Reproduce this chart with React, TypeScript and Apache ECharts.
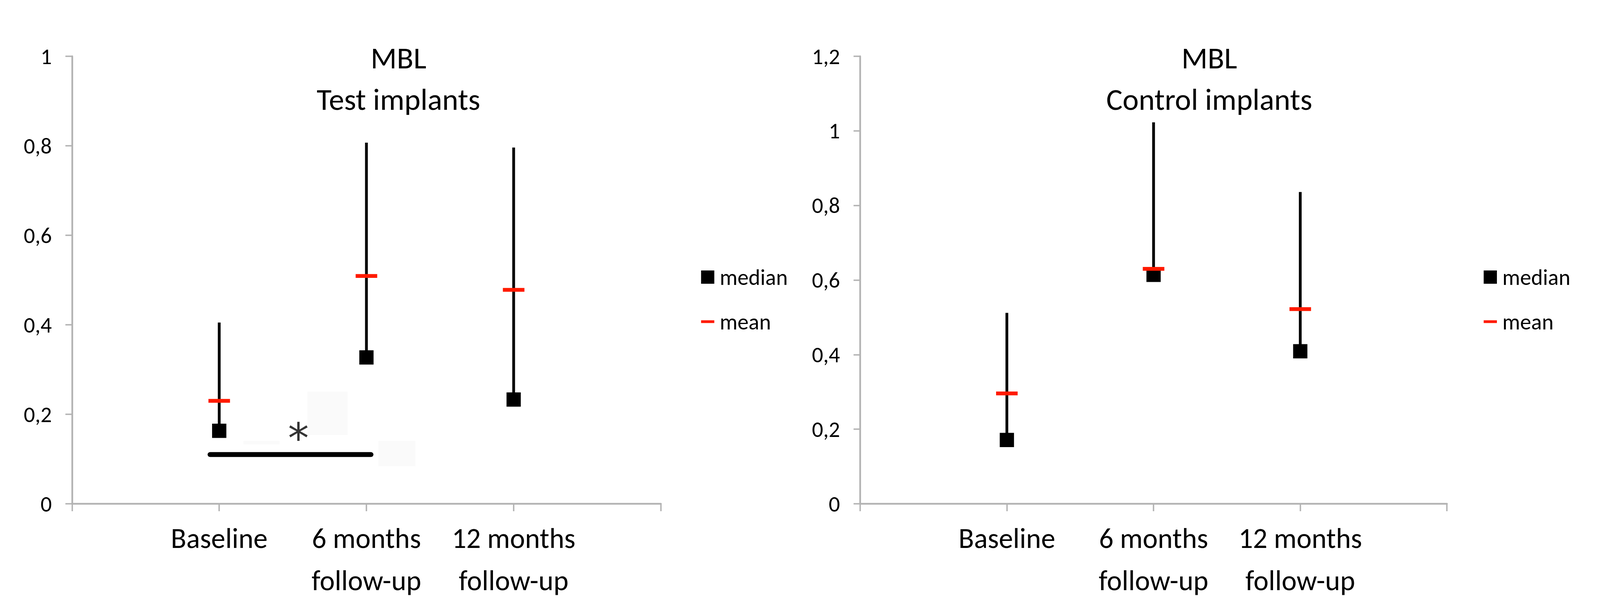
import React, { useEffect, useRef } from "react";
import * as echarts from "echarts";

// ---- data ----
const categoryLabels = ["Baseline", "6 months\nfollow-up", "12 months\nfollow-up"];
const categoryPos = [1, 2, 3];

const testMedian = [0.163, 0.327, 0.233];
const testMean = [0.23, 0.509, 0.478];
const testMax = [0.405, 0.807, 0.796];

const controlMedian = [0.171, 0.614, 0.409];
const controlMean = [0.296, 0.63, 0.522];
const controlMax = [0.512, 1.023, 0.836];

const testYMax = 1;
const controlYMax = 1.2;
const yInterval = 0.2;

const testTitle = "MBL\nTest implants";
const controlTitle = "MBL\nControl implants";
const legendNames = ["median", "mean"];

// significance bar (Baseline vs 6 months, test implants)
const sigBarX = [0.9375, 2.031];
const sigBarY = 0.11;
const sigStarPos = [1.538, 0.167];
const sigStarText = "*";

const FONT = "Carlito, Calibri, Lato, 'Open Sans', sans-serif";
const AXIS_COLOR = "#b3b3b3";
const REF_W = 4600;
const REF_H = 1571;

function xLabel(v: number) {
  const r = Math.round(v);
  const i = categoryPos.indexOf(r);
  return Math.abs(v - r) < 1e-6 && i >= 0 ? categoryLabels[i] : "";
}
function yLabel(v: number) {
  return String(Math.round(v * 10) / 10).replace(".", ",");
}

export default function App() {
  const ref = useRef<HTMLDivElement>(null);
  useEffect(() => {
    document.body.style.margin = "0";
    document.body.style.overflow = "hidden";
    document.documentElement.style.overflow = "hidden";
    const el = ref.current;
    if (!el) return;
    const W = el.clientWidth || REF_W;
    const H = el.clientHeight || REF_H;
    const sx = W / REF_W;
    const sy = H / REF_H;
    const fs = Math.min(sx, sy);
    const X = (v: number) => v * sx;
    const Y = (v: number) => v * sy;
    const F = (v: number) => v * fs;

    const chart = echarts.init(el, undefined, { renderer: "svg" });

    const whiskerSeries = (g: number, med: number[], max: number[]) => ({
      type: "custom",
      xAxisIndex: g,
      yAxisIndex: g,
      z: 2,
      data: categoryPos.map((x, i) => [x, med[i], max[i]]),
      encode: { x: 0, y: [1, 2] },
      renderItem: (params: any, api: any) => {
        const x = api.value(0);
        const p1 = api.coord([x, api.value(1)]);
        const p2 = api.coord([x, api.value(2)]);
        return {
          type: "line",
          shape: { x1: p1[0], y1: p1[1], x2: p2[0], y2: p2[1] },
          style: { stroke: "#000", lineWidth: F(8) },
        };
      },
    });

    const medianSeries = (g: number, med: number[]) => ({
      name: legendNames[0],
      type: "scatter",
      xAxisIndex: g,
      yAxisIndex: g,
      z: 3,
      symbol: "rect",
      symbolSize: F(41),
      itemStyle: { color: "#000", opacity: 1 },
      data: categoryPos.map((x, i) => [x, med[i]]),
    });

    const meanSeries = (g: number, mean: number[]) => ({
      name: legendNames[1],
      type: "scatter",
      xAxisIndex: g,
      yAxisIndex: g,
      z: 4,
      symbol: "rect",
      symbolSize: [F(62), F(11)],
      itemStyle: { color: "#ff1a00", opacity: 1 },
      data: categoryPos.map((x, i) => [x, mean[i]]),
    });

    const xAxis = (g: number) => ({
      type: "value",
      gridIndex: g,
      min: 0,
      max: 4,
      interval: 1,
      splitLine: { show: false },
      axisLine: { show: true, lineStyle: { color: AXIS_COLOR, width: F(5) } },
      axisTick: { show: true, length: Y(19), lineStyle: { color: AXIS_COLOR, width: F(4) } },
      axisLabel: {
        formatter: xLabel,
        margin: Y(34),
        color: "#000",
        fontSize: F(82),
        lineHeight: Y(108),
        fontFamily: FONT,
        showMinLabel: true,
        showMaxLabel: true,
      },
    });

    const yAxis = (g: number, max: number) => ({
      type: "value",
      gridIndex: g,
      min: 0,
      max,
      interval: yInterval,
      splitLine: { show: false },
      axisLine: { show: true, lineStyle: { color: AXIS_COLOR, width: F(5) } },
      axisTick: { show: true, length: X(19), lineStyle: { color: AXIS_COLOR, width: F(4) } },
      axisLabel: {
        formatter: yLabel,
        margin: X(58),
        color: "#000",
        fontSize: F(64),
        fontFamily: FONT,
      },
    });

    const legend = (left: number) => ({
      orient: "vertical",
      left: X(left),
      top: Y(672),
      itemWidth: F(38),
      itemHeight: F(38),
      itemGap: Y(50),
      selectedMode: false,
      textStyle: {
        fontSize: F(64),
        lineHeight: Y(64),
        color: "#000",
        fontFamily: FONT,
        padding: [0, 0, 0, X(10)],
      },
      data: [
        { name: legendNames[0], icon: "rect" },
        { name: legendNames[1], icon: "path://M0,0h40v8h-40z" },
      ],
    });

    const title = (text: string, left: number) => ({
      text,
      left: X(left),
      top: Y(90),
      textAlign: "center",
      textStyle: {
        fontSize: F(88),
        lineHeight: Y(106),
        fontWeight: "normal",
        color: "#000",
        fontFamily: FONT,
      },
    });

    chart.setOption({
      animation: false,
      backgroundColor: "#fff",
      title: [title(testTitle, 1140), title(controlTitle, 3471)],
      legend: [legend(2010), legend(4260)],
      grid: [
        { left: X(207), top: Y(144), width: X(1693), height: Y(1145), containLabel: false, outerBoundsMode: "none" },
        { left: X(2473), top: Y(144), width: X(1687), height: Y(1145), containLabel: false, outerBoundsMode: "none" },
      ],
      xAxis: [xAxis(0), xAxis(1)],
      yAxis: [yAxis(0, testYMax), yAxis(1, controlYMax)],
      graphic: [
        { type: "rect", z: -10, shape: { x: X(884), y: Y(1002), width: X(115), height: Y(111) }, style: { fill: "#fafafa" } },
        { type: "rect", z: -10, shape: { x: X(1088), y: Y(1128), width: X(106), height: Y(65) }, style: { fill: "#fafafa" } },
        { type: "rect", z: -10, shape: { x: X(700), y: Y(1128), width: X(104), height: Y(9) }, style: { fill: "#fafafa" } },
      ],
      series: [
        whiskerSeries(0, testMedian, testMax),
        medianSeries(0, testMedian),
        meanSeries(0, testMean),
        {
          type: "line",
          xAxisIndex: 0,
          yAxisIndex: 0,
          symbol: "none",
          silent: true,
          z: 2,
          lineStyle: { color: "#000", width: F(14), cap: "round" },
          data: sigBarX.map((x) => [x, sigBarY]),
        },
        {
          type: "scatter",
          xAxisIndex: 0,
          yAxisIndex: 0,
          symbolSize: 1,
          itemStyle: { color: "rgba(0,0,0,0)" },
          silent: true,
          data: [sigStarPos],
          label: {
            show: true,
            position: "inside",
            formatter: sigStarText,
            fontSize: F(120),
            color: "#000",
            fontFamily: "'DejaVu Sans', sans-serif",
            offset: [0, Y(24)],
          },
        },
        whiskerSeries(1, controlMedian, controlMax),
        medianSeries(1, controlMedian),
        meanSeries(1, controlMean),
      ],
    });
    return () => chart.dispose();
  }, []);
  return <div ref={ref} style={{ width: "100vw", height: "100vh" }} />;
}
